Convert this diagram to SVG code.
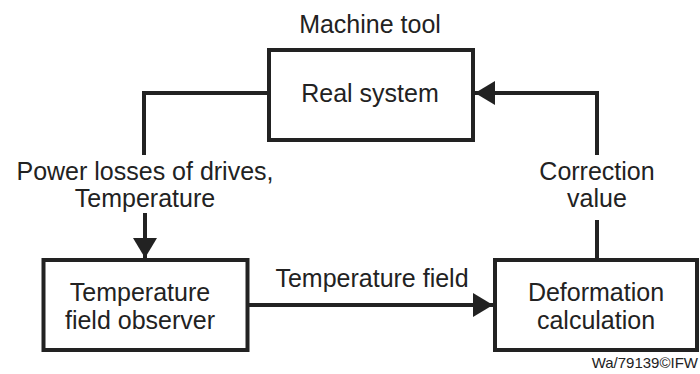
<svg xmlns="http://www.w3.org/2000/svg" width="700" height="374" viewBox="0 0 700 374">
<defs>
<style>
text{font-family:"Liberation Sans",Arial,sans-serif;fill:#222;font-size:25px;text-anchor:middle}
.box{fill:#fff;stroke:#222;stroke-width:4}
.ln{fill:none;stroke:#222;stroke-width:4}
.small{font-size:15px;text-anchor:end}
</style>
<marker id="ah" viewBox="0 0 20 24" refX="20" refY="12" markerWidth="20" markerHeight="24" markerUnits="userSpaceOnUse" orient="auto">
<path d="M0,0 L20,12 L0,24 Z" fill="#222"/>
</marker>
</defs>
<rect width="700" height="374" fill="#fff"/>
<g id="connectors">
<path class="ln" d="M269,93 H144 V155"/>
<path class="ln" d="M145,213 V258" marker-end="url(#ah)"/>
<path class="ln" d="M246,305 H493" marker-end="url(#ah)"/>
<path class="ln" d="M597,260 V220"/>
<path class="ln" d="M597,155 V93 H475" marker-end="url(#ah)"/>
</g>
<g id="labels">
<text x="370" y="33">Machine tool</text>
<text x="145" y="180">Power losses of drives,</text>
<text x="145" y="207">Temperature</text>
<text x="372" y="287">Temperature field</text>
<text x="597" y="180">Correction</text>
<text x="597" y="207">value</text>
<text class="small" x="698" y="368">Wa/79139©IFW</text>
</g>
<g id="real-system">
<rect class="box" x="269" y="50" width="204" height="90"/>
<text x="370" y="102">Real system</text>
</g>
<g id="temperature-field-observer">
<rect class="box" x="43.5" y="260" width="204" height="90"/>
<text x="140" y="301">Temperature</text>
<text x="140" y="329">field observer</text>
</g>
<g id="deformation-calculation">
<rect class="box" x="495" y="260" width="202" height="90"/>
<text x="596" y="301">Deformation</text>
<text x="596" y="329">calculation</text>
</g>
</svg>
